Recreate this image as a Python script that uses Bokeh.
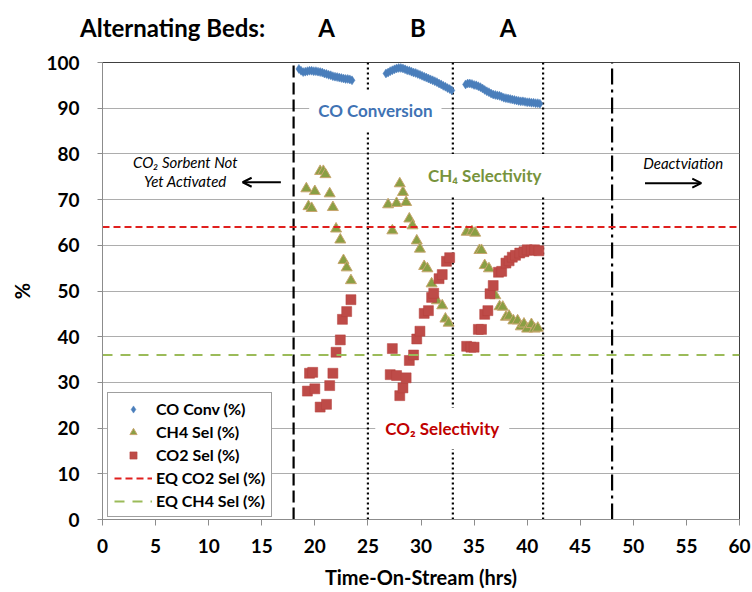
from bokeh.plotting import figure
from bokeh.models import (Label, Arrow, OpenHead, Legend, LegendItem,
                          FixedTicker, Range1d, LinearAxis)
from bokeh.embed import file_html
from bokeh.resources import INLINE

FONT = "Lato"

# ---- data -------------------------------------------------------------
x_limits = [0, 60]
y_limits = [0, 100]
x_ticks = [0, 5, 10, 15, 20, 25, 30, 35, 40, 45, 50, 55, 60]
y_ticks = [0, 10, 20, 30, 40, 50, 60, 70, 80, 90, 100]

# CO conversion (%), three bed cycles
co_conv_t = [18.5, 18.7, 18.9, 19.1, 19.3, 19.5, 19.7, 19.9, 20.1, 20.3, 20.5,
             20.7, 20.9, 21.1, 21.3, 21.5, 21.7, 21.9, 22.1, 22.3, 22.5, 22.7,
             22.9, 23.1, 23.3, 23.5,
             26.7, 26.9, 27.1, 27.3, 27.5, 27.7, 27.9, 28.1, 28.3, 28.5, 28.7,
             28.9, 29.1, 29.3, 29.5, 29.7, 29.9, 30.1, 30.3, 30.5, 30.7, 30.9,
             31.1, 31.3, 31.5, 31.7, 31.9, 32.1, 32.3, 32.5, 32.7, 32.9,
             34.2, 34.4, 34.6, 34.8, 35.0, 35.2, 35.4, 35.6, 35.8, 36.0, 36.2,
             36.4, 36.6, 36.8, 37.0, 37.2, 37.4, 37.6, 37.8, 38.0, 38.2, 38.4,
             38.6, 38.8, 39.0, 39.2, 39.4, 39.6, 39.8, 40.0, 40.2, 40.4, 40.6,
             40.8, 41.0, 41.2]
co_conv = [98.6, 98.2, 97.9, 98.0, 98.1, 98.2, 98.2, 98.1, 98.1, 98.0, 97.9,
           97.8, 97.6, 97.5, 97.3, 97.2, 97.0, 96.9, 96.8, 96.7, 96.6, 96.5,
           96.4, 96.4, 96.3, 96.1,
           97.6, 97.8, 98.1, 98.3, 98.5, 98.7, 98.8, 98.8, 98.7, 98.5, 98.3,
           98.2, 98.0, 97.8, 97.7, 97.5, 97.3, 97.1, 96.9, 96.7, 96.5, 96.3,
           96.1, 95.9, 95.7, 95.4, 95.2, 94.9, 94.7, 94.4, 94.2, 93.9,
           95.2, 95.4, 95.4, 95.3, 95.1, 95.0, 94.8, 94.6, 94.3, 94.0, 93.7,
           93.5, 93.2, 93.0, 92.9, 92.8, 92.7, 92.5, 92.3, 92.2, 92.1, 92.0,
           91.9, 91.8, 91.7, 91.6, 91.5, 91.5, 91.4, 91.3, 91.3, 91.2, 91.2,
           91.1, 91.1, 91.0]

# CH4 selectivity (%)
ch4_t = [19.2, 19.4, 19.7, 20.0, 20.5, 20.8, 21.0, 21.4, 21.7, 22.0, 22.4,
         22.7, 23.0, 23.4,
         26.9, 27.3, 27.7, 28.0, 28.3, 28.6, 28.9, 29.2, 29.6, 29.9, 30.3,
         30.6, 31.0, 31.5, 32.0, 32.3, 32.6,
         34.3, 34.8, 35.1, 35.5, 35.7, 36.0, 36.4, 37.0, 37.4, 37.7, 38.0,
         38.3, 38.7, 39.1, 39.4, 39.7, 40.0, 40.4, 40.7, 41.0]
ch4_sel = [72.4, 68.5, 68.1, 71.8, 76.2, 76.2, 75.5, 71.3, 68.3, 63.6, 61.2,
           56.7, 55.1, 52.3,
           68.9, 63.2, 69.2, 73.5, 71.6, 69.4, 65.8, 64.3, 61.0, 59.2, 55.4,
           54.9, 51.6, 47.9, 46.8, 43.9, 43.0,
           62.9, 63.0, 62.7, 58.9, 58.9, 55.6, 54.9, 49.0, 46.6, 46.5, 44.3,
           44.5, 43.5, 43.5, 42.2, 42.8, 41.7, 42.7, 41.7, 41.9]

# CO2 selectivity (%)
co2_t = [19.3, 19.5, 19.8, 20.0, 20.5, 21.1, 21.4, 21.7, 22.0, 22.4, 22.6,
         23.0, 23.4,
         27.1, 27.3, 27.7, 28.0, 28.3, 28.6, 28.9, 29.3, 29.6, 29.9, 30.3,
         30.7, 31.0, 31.2, 31.7, 32.0, 32.4, 32.7,
         34.3, 34.7, 35.0, 35.4, 35.7, 36.0, 36.3, 36.5, 36.8, 37.3, 37.6,
         38.0, 38.3, 38.6, 38.9, 39.3, 39.7, 40.0, 40.4, 40.7, 41.1]
co2_sel = [28.1, 32.0, 32.2, 28.6, 24.6, 25.2, 29.3, 32.0, 36.6, 39.3, 43.8,
           45.5, 48.1,
           31.7, 37.4, 31.5, 27.1, 28.8, 31.0, 34.8, 36.0, 39.5, 41.2, 45.1,
           45.7, 48.6, 49.5, 52.7, 53.6, 56.5, 57.3,
           37.9, 37.7, 37.7, 41.6, 41.6, 44.9, 45.7, 49.4, 51.2, 54.1, 54.3,
           56.1, 56.6, 57.4, 57.8, 58.3, 58.6, 59.0, 58.9, 59.0, 58.8]

# equilibrium selectivities (%)
eq_co2_sel = 64
eq_ch4_sel = 36

# event times (hrs)
sorbent_active_t = 18
bed_switch_t = [25, 33, 41.5]
deactivation_t = 48

# header row above the plot
header_t = [6.6, 21.1, 29.7, 38.2]
header_text = ["Alternating Beds:", "A", "B", "A"]

# ---- figure -----------------------------------------------------------
p = figure(width=752, height=592, output_backend="svg", toolbar_location=None,
           x_range=Range1d(*x_limits), y_range=Range1d(*y_limits),
           min_border_left=102, min_border_right=13,
           min_border_top=62, min_border_bottom=73,
           background_fill_color="white", border_fill_color="white")
p.outline_line_color = "#404040"
p.outline_line_width = 1

p.xgrid.grid_line_color = None
p.ygrid.grid_line_color = "#ADADAD"
p.ygrid.grid_line_width = 1
p.ygrid.ticker = FixedTicker(ticks=y_ticks)

for ax in (p.xaxis[0], p.yaxis[0]):
    ax.axis_line_color = "#8C8C8C"
    ax.major_tick_line_color = "#8C8C8C"
    ax.major_tick_in = 0
    ax.minor_tick_line_color = None
    ax.major_label_text_font = FONT
    ax.major_label_text_font_style = "bold"
    ax.major_label_text_font_size = "19px"
    ax.major_label_text_color = "black"
    ax.axis_label_text_font = FONT
    ax.axis_label_text_font_style = "bold"
    ax.axis_label_text_font_size = "20px"
    ax.axis_label_text_color = "black"

p.xaxis.ticker = FixedTicker(ticks=x_ticks)
p.yaxis.ticker = FixedTicker(ticks=y_ticks)
p.xaxis.major_tick_out = 6
p.yaxis.major_tick_out = 5
p.xaxis.major_label_standoff = 13
p.yaxis.major_label_standoff = 18
p.xaxis.axis_label = "Time-On-Stream (hrs)"
p.yaxis.axis_label = "%"
p.xaxis.axis_label_standoff = 9
p.yaxis.axis_label_standoff = 9

# header labels carried by a bare axis along the top edge
top = LinearAxis(ticker=FixedTicker(ticks=header_t),
                 major_label_overrides=dict(zip(header_t, header_text)),
                 axis_line_color=None, major_tick_line_color=None,
                 minor_tick_line_color=None, major_tick_out=0, major_tick_in=0,
                 major_label_standoff=21, major_label_text_font=FONT,
                 major_label_text_font_style="bold",
                 major_label_text_font_size="24px",
                 major_label_text_color="black")
p.add_layout(top, "above")

# event lines
p.segment(x0=[sorbent_active_t], y0=[y_limits[0]], x1=[sorbent_active_t], y1=[y_limits[1]],
          line_color="black", line_width=2.2, line_dash="12 5")
p.segment(x0=bed_switch_t, y0=[y_limits[0]] * 3, x1=bed_switch_t, y1=[y_limits[1]] * 3,
          line_color="black", line_width=2.2, line_dash="2 3")
p.segment(x0=[deactivation_t], y0=[y_limits[0]], x1=[deactivation_t], y1=[y_limits[1]],
          line_color="black", line_width=2.2, line_dash="16 5 3 5")

# series
r_co = p.scatter(co_conv_t, co_conv, marker="diamond", size=9,
                 fill_color="#4A7EBB", line_color="#4A7EBB", line_width=0.5)
r_ch4 = p.scatter(ch4_t, ch4_sel, marker="triangle", size=11,
                  fill_color="#8A9F44", line_color="#C8A66E", line_width=1)
r_co2 = p.scatter(co2_t, co2_sel, marker="square", size=10,
                  fill_color="#BE4B48", line_color="#B4403D", line_width=0.5)
r_eq_co2 = p.line(x_limits, [eq_co2_sel, eq_co2_sel], line_color="#E0201E",
                  line_width=2, line_dash="7 4")
r_eq_ch4 = p.line(x_limits, [eq_ch4_sel, eq_ch4_sel], line_color="#9BBB59",
                  line_width=2, line_dash="10 8")

# annotations
def note(x, y, text, color="black", size="17px", style="bold", bg=None, pad=0):
    lab = Label(x=x, y=y, text=text, text_align="center", text_baseline="middle",
                text_font=FONT, text_font_size=size, text_font_style=style,
                text_color=color, padding=pad)
    if bg:
        lab.background_fill_color = bg
    p.add_layout(lab)

note(25.7, 89.4, "CO Conversion", color="#3F73B4", bg="white", pad=9)
note(36.0, 75.3, "CH\u2084 Selectivity", color="#77933C", bg="white", pad=11)
note(32.0, 19.9, "CO\u2082 Selectivity", color="#C00000", bg="white", pad=10)
note(7.8, 78.3, "CO\u2082 Sorbent Not", size="15px", style="italic")
note(7.8, 74.0, "Yet Activated", size="15px", style="italic")
note(54.7, 77.9, "Deactviation", size="15px", style="italic")

p.add_layout(Arrow(end=OpenHead(size=9, line_width=2, line_color="black"),
                   x_start=16.8, y_start=73.8, x_end=13.2, y_end=73.8,
                   line_width=2, line_color="black"))
p.add_layout(Arrow(end=OpenHead(size=9, line_width=2, line_color="black"),
                   x_start=51.1, y_start=73.6, x_end=56.4, y_end=73.6,
                   line_width=2, line_color="black"))

legend = Legend(items=[
    LegendItem(label="CO Conv (%)", renderers=[r_co]),
    LegendItem(label="CH4 Sel (%)", renderers=[r_ch4]),
    LegendItem(label="CO2 Sel (%)", renderers=[r_co2]),
    LegendItem(label="EQ CO2 Sel (%)", renderers=[r_eq_co2]),
    LegendItem(label="EQ CH4 Sel (%)", renderers=[r_eq_ch4]),
], location=(5, 2), margin=0, padding=6, spacing=4,
   glyph_width=38, glyph_height=18, label_height=18, label_standoff=4,
   label_text_font=FONT, label_text_font_style="bold", label_text_font_size="16px",
   label_text_color="black", border_line_color="#404040", border_line_width=1,
   background_fill_color="white", background_fill_alpha=1)
p.add_layout(legend)

open("out.html", "w").write(file_html(p, INLINE))
